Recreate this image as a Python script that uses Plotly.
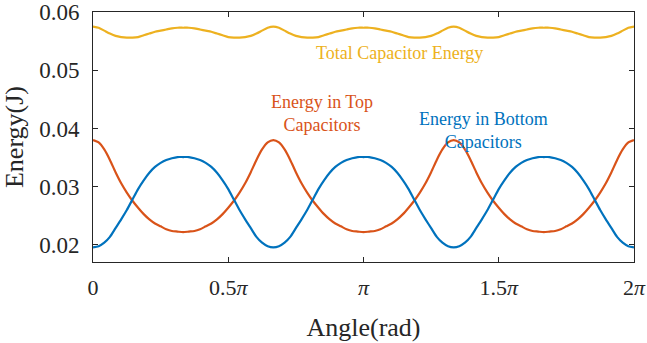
import numpy as np
import plotly.graph_objects as go

# Angle samples in units of pi (step pi/48, 0 .. 2pi)
angle_pi = [i / 48 for i in range(97)]

energy_top = [
    0.0380, 0.0376, 0.0364, 0.0346, 0.0325, 0.0306, 0.0290, 0.0276, 0.0264, 0.0253, 0.0244,
    0.0237, 0.0232, 0.0227, 0.0224, 0.0223, 0.0222, 0.0223, 0.0224, 0.0227, 0.0232, 0.0237,
    0.0244, 0.0253, 0.0264, 0.0276, 0.0290, 0.0306, 0.0325, 0.0346, 0.0364, 0.0376,
    0.0380, 0.0376, 0.0364, 0.0346, 0.0325, 0.0306, 0.0290, 0.0276, 0.0264, 0.0253, 0.0244,
    0.0237, 0.0232, 0.0227, 0.0224, 0.0223, 0.0222, 0.0223, 0.0224, 0.0227, 0.0232, 0.0237,
    0.0244, 0.0253, 0.0264, 0.0276, 0.0290, 0.0306, 0.0325, 0.0346, 0.0364, 0.0376,
    0.0380, 0.0376, 0.0364, 0.0346, 0.0325, 0.0306, 0.0290, 0.0276, 0.0264, 0.0253, 0.0244,
    0.0237, 0.0232, 0.0227, 0.0224, 0.0223, 0.0222, 0.0223, 0.0224, 0.0227, 0.0232, 0.0237,
    0.0244, 0.0253, 0.0264, 0.0276, 0.0290, 0.0306, 0.0325, 0.0346, 0.0364, 0.0376,
    0.0380,
]

energy_bottom = [
    0.0196, 0.0198, 0.0204, 0.0214, 0.0229, 0.0244, 0.0260, 0.0278, 0.0296, 0.0311, 0.0324,
    0.0334, 0.0341, 0.0346, 0.0349, 0.0351, 0.0351, 0.0351, 0.0349, 0.0346, 0.0341, 0.0334,
    0.0324, 0.0311, 0.0296, 0.0278, 0.0260, 0.0244, 0.0229, 0.0214, 0.0204, 0.0198,
    0.0196, 0.0198, 0.0204, 0.0214, 0.0229, 0.0244, 0.0260, 0.0278, 0.0296, 0.0311, 0.0324,
    0.0334, 0.0341, 0.0346, 0.0349, 0.0351, 0.0351, 0.0351, 0.0349, 0.0346, 0.0341, 0.0334,
    0.0324, 0.0311, 0.0296, 0.0278, 0.0260, 0.0244, 0.0229, 0.0214, 0.0204, 0.0198,
    0.0196, 0.0198, 0.0204, 0.0214, 0.0229, 0.0244, 0.0260, 0.0278, 0.0296, 0.0311, 0.0324,
    0.0334, 0.0341, 0.0346, 0.0349, 0.0351, 0.0351, 0.0351, 0.0349, 0.0346, 0.0341, 0.0334,
    0.0324, 0.0311, 0.0296, 0.0278, 0.0260, 0.0244, 0.0229, 0.0214, 0.0204, 0.0198,
    0.0196,
]

energy_total = [
    0.0575, 0.0573, 0.0568, 0.0563, 0.0559, 0.0557, 0.0556, 0.0556, 0.0557, 0.0560, 0.0563,
    0.0566, 0.0568, 0.0570, 0.0572, 0.0573, 0.0573, 0.0573, 0.0572, 0.0570, 0.0568, 0.0566,
    0.0563, 0.0560, 0.0557, 0.0556, 0.0556, 0.0557, 0.0559, 0.0563, 0.0568, 0.0573,
    0.0575, 0.0573, 0.0568, 0.0563, 0.0559, 0.0557, 0.0556, 0.0556, 0.0557, 0.0560, 0.0563,
    0.0566, 0.0568, 0.0570, 0.0572, 0.0573, 0.0573, 0.0573, 0.0572, 0.0570, 0.0568, 0.0566,
    0.0563, 0.0560, 0.0557, 0.0556, 0.0556, 0.0557, 0.0559, 0.0563, 0.0568, 0.0573,
    0.0575, 0.0573, 0.0568, 0.0563, 0.0559, 0.0557, 0.0556, 0.0556, 0.0557, 0.0560, 0.0563,
    0.0566, 0.0568, 0.0570, 0.0572, 0.0573, 0.0573, 0.0573, 0.0572, 0.0570, 0.0568, 0.0566,
    0.0563, 0.0560, 0.0557, 0.0556, 0.0556, 0.0557, 0.0559, 0.0563, 0.0568, 0.0573,
    0.0575,
]

x_tick_vals_pi = [0, 0.5, 1, 1.5, 2]
x_tick_text = ["0", "0.5<i>π</i>", "<i>π</i>", "1.5<i>π</i>", "2<i>π</i>"]
y_tick_vals = [0.02, 0.03, 0.04, 0.05, 0.06]
y_tick_text = ["0.02", "0.03", "0.04", "0.05", "0.06"]

x = np.array(angle_pi) * np.pi

BLUE = "#0072BD"
ORANGE = "#D95319"
YELLOW = "#EDB120"
FONT = "Times New Roman, Liberation Serif, serif"
AX = "#262626"

fig = go.Figure()
for y, c in [(energy_total, YELLOW), (energy_top, ORANGE), (energy_bottom, BLUE)]:
    fig.add_trace(go.Scatter(x=x, y=y, mode="lines",
                             line=dict(color=c, width=2.2, shape="spline", smoothing=0.6),
                             showlegend=False, hoverinfo="skip"))

fig.update_layout(
    width=647, height=343,
    margin=dict(l=93, r=13, t=12, b=81),
    paper_bgcolor="white", plot_bgcolor="white",
    font=dict(family=FONT, color=AX),
    xaxis=dict(range=[0, 2 * np.pi], tickvals=[v * np.pi for v in x_tick_vals_pi],
               ticktext=x_tick_text, ticks="inside", ticklen=5, tickcolor=AX,
               showline=True, linecolor=AX, linewidth=1, mirror="allticks",
               showgrid=False, zeroline=False, tickfont=dict(size=22, family=FONT),
               ticklabelstandoff=6, automargin=False,
               title=dict(text="Angle(rad)", font=dict(size=26, family=FONT), standoff=18)),
    yaxis=dict(range=[0.01708, 0.06], tickvals=y_tick_vals, ticktext=y_tick_text,
               ticks="inside", ticklen=5, tickcolor=AX,
               showline=True, linecolor=AX, linewidth=1, mirror="allticks",
               showgrid=False, zeroline=False, tickfont=dict(size=23, family=FONT),
               ticklabelstandoff=8, automargin=False,
               title=dict(text="Energy(J)", font=dict(size=26, family=FONT), standoff=8)),
    annotations=[
        dict(text="Total Capacitor Energy", xref="paper", yref="paper", x=0.566, y=0.885,
             showarrow=False, font=dict(size=18, color=YELLOW, family=FONT)),
        dict(text="Energy in Top<br>Capacitors", xref="paper", yref="paper", x=0.325, y=0.596,
             showarrow=False, font=dict(size=18, color=ORANGE, family=FONT)),
        dict(text="Energy in Bottom<br>Capacitors", xref="paper", yref="paper", x=0.845, y=0.525,
             showarrow=False, font=dict(size=18, color=BLUE, family=FONT)),
    ],
)

fig.write_html("out.html")
